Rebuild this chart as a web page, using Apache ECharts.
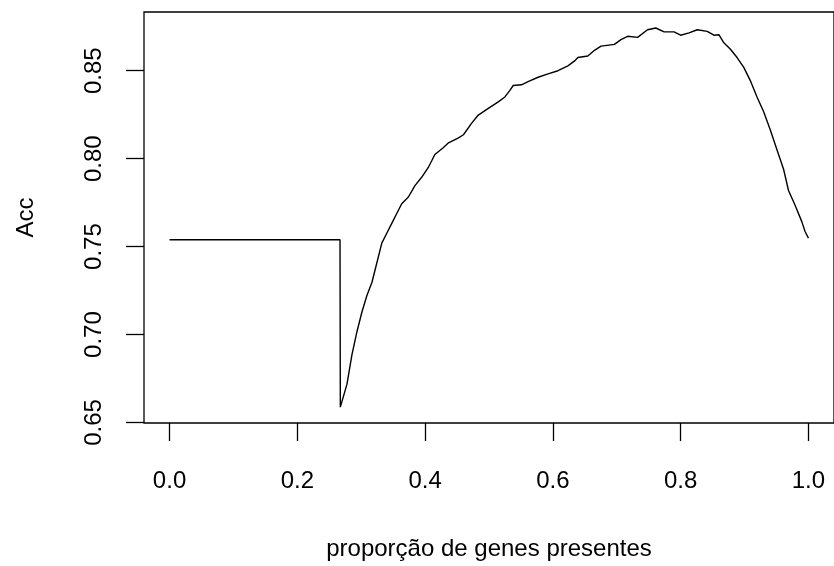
<!DOCTYPE html>
<html>
<head>
<meta charset="utf-8">
<script src="https://cdn.jsdelivr.net/npm/echarts@6/dist/echarts.min.js"></script>
<style>html,body{margin:0;padding:0;background:#fff}#c{width:834px;height:566px}</style>
</head>
<body>
<div id="c"></div>
<script>
// proportion of genes present (x) and accuracy (y)
var xs = [0, 0.2668, 0.2673, 0.2777, 0.2855, 0.2933, 0.3011, 0.3089, 0.3167, 0.3245, 0.3322, 0.3400, 0.3478, 0.3556, 0.3634, 0.3738, 0.3841, 0.3946, 0.4050, 0.4153, 0.4283, 0.4366, 0.4522, 0.4600, 0.4729, 0.4833, 0.4989, 0.5145, 0.5249, 0.5327, 0.5379, 0.5508, 0.5612, 0.5768, 0.5924, 0.6080, 0.6235, 0.6340, 0.6391, 0.6547, 0.6651, 0.6754, 0.6963, 0.7065, 0.7170, 0.7326, 0.7481, 0.7611, 0.7741, 0.7897, 0.8000, 0.8131, 0.8260, 0.8416, 0.8520, 0.8598, 0.8676, 0.8779, 0.8883, 0.8988, 0.9090, 0.9195, 0.9299, 0.9402, 0.9506, 0.9611, 0.9688, 0.9791, 0.9896, 0.9947, 1.0000];
var ys = [0.7539, 0.7539, 0.6587, 0.6718, 0.6886, 0.7016, 0.7128, 0.7222, 0.7296, 0.7408, 0.7520, 0.7576, 0.7632, 0.7688, 0.7744, 0.7782, 0.7847, 0.7894, 0.7950, 0.8024, 0.8062, 0.8090, 0.8118, 0.8136, 0.8202, 0.8248, 0.8286, 0.8323, 0.8351, 0.8388, 0.8416, 0.8420, 0.8438, 0.8463, 0.8482, 0.8500, 0.8528, 0.8556, 0.8575, 0.8584, 0.8616, 0.8640, 0.8650, 0.8677, 0.8696, 0.8690, 0.8733, 0.8743, 0.8721, 0.8721, 0.8702, 0.8715, 0.8733, 0.8724, 0.8702, 0.8705, 0.8659, 0.8622, 0.8575, 0.8519, 0.8444, 0.8351, 0.8267, 0.8164, 0.8052, 0.7940, 0.7819, 0.7735, 0.7642, 0.7586, 0.7548];
var xTicks = [0, 0.2, 0.4, 0.6, 0.8, 1.0];
var yTicks = [0.65, 0.70, 0.75, 0.80, 0.85];
var xTitle = 'proporção de genes presentes';
var yTitle = 'Acc';

var pts = xs.map(function (x, i) { return [x, ys[i]]; });
var font = 'Liberation Sans, Arial, Helvetica, sans-serif';
var chart = echarts.init(document.getElementById('c'), null, {renderer: 'canvas'});
chart.setOption({
  animation: false,
  backgroundColor: '#fff',
  grid: {left: 144, right: -3, top: 12, bottom: 138, show: true, borderColor: '#000', borderWidth: 1.3, backgroundColor: 'transparent'},
  xAxis: {
    type: 'value', min: -0.04, max: 1.04,
    name: xTitle, nameLocation: 'middle', nameGap: 114,
    nameTextStyle: {fontFamily: font, fontSize: 24, color: '#000'},
    axisLine: {show: false, onZero: false},
    splitLine: {show: false},
    axisTick: {show: true, customValues: xTicks, length: 18, lineStyle: {color: '#000', width: 1.3}},
    axisLabel: {customValues: xTicks, margin: 46, fontFamily: font, fontSize: 24, color: '#000',
      formatter: function (v) { return v.toFixed(1); }}
  },
  yAxis: {
    type: 'value', min: 0.6497, max: 0.8834,
    name: yTitle, nameLocation: 'middle', nameGap: 106, nameRotate: 90,
    nameTextStyle: {fontFamily: font, fontSize: 24, color: '#000'},
    axisLine: {show: false, onZero: false},
    splitLine: {show: false},
    axisTick: {show: true, customValues: yTicks, length: 18, lineStyle: {color: '#000', width: 1.3}},
    axisLabel: {customValues: yTicks, margin: 38, rotate: 90, fontFamily: font, fontSize: 24, color: '#000',
      formatter: function (v) { return v.toFixed(2); }}
  },
  series: [{
    type: 'line', data: pts, symbol: 'none', smooth: false,
    lineStyle: {color: '#000', width: 1.4}
  }]
});
</script>
</body>
</html>
